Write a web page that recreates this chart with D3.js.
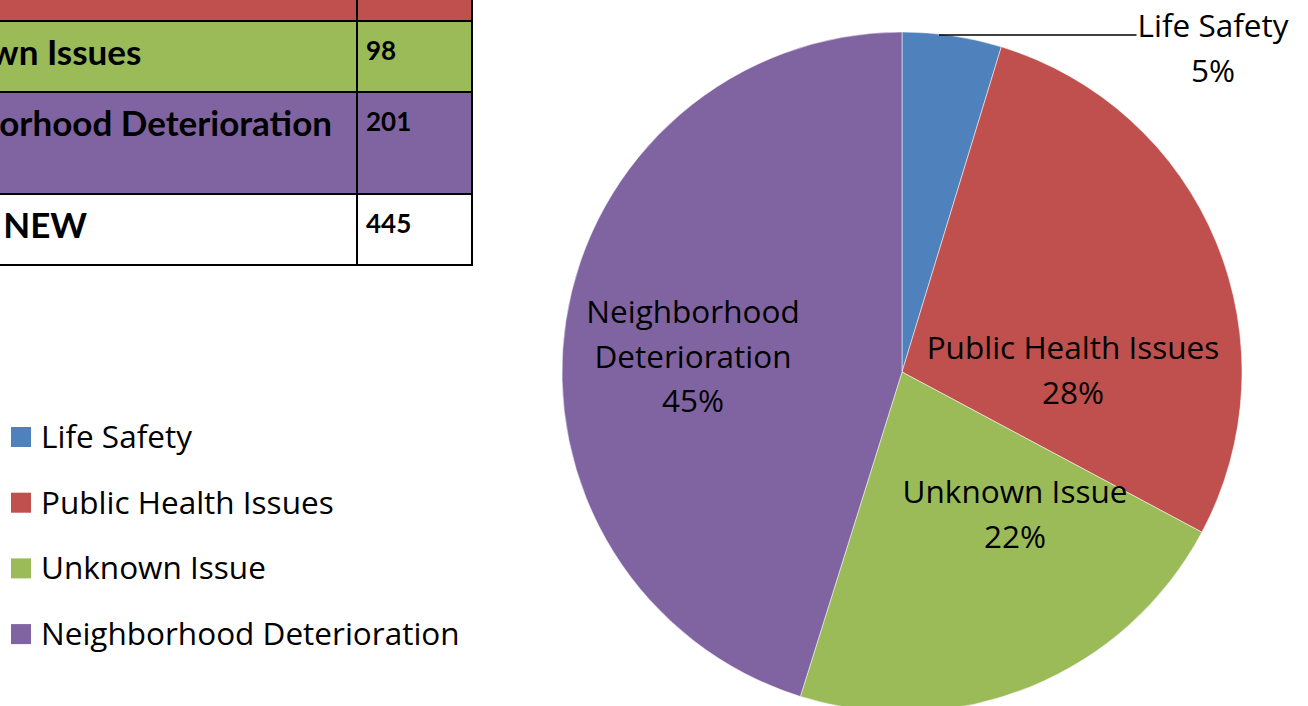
<!DOCTYPE html>
<html>
<head>
<meta charset="utf-8">
<script src="https://cdn.jsdelivr.net/npm/d3@7"></script>
<style>
  html, body { margin: 0; padding: 0; background: #fff; overflow: hidden; }
  svg { display: block; }
</style>
</head>
<body>
<svg id="chart" width="1308" height="706"></svg>
<script>
// Complaint categories and counts
const categories = ["Life Safety", "Public Health Issues", "Unknown Issue", "Neighborhood Deterioration"];
const counts = [21, 125, 98, 201];
const colors = ["#4F81BD", "#C0504D", "#9BBB59", "#8064A2"];

// Summary table rows (label, value)
const tableLabels = ["Public Health Issues", "Unknown Issues", "Neighborhood Deterioration", "TOTAL NEW"];
const tableValues = [125, 98, 201, 445];
const tableFills = ["#C0504D", "#9BBB59", "#8064A2", "#FFFFFF"];

const svg = d3.select("#chart");
const FONT = "'Open Sans', Lato, sans-serif";
const BOLD_FONT = "Lato, 'Open Sans', sans-serif";

// ---------- Table ----------
const tbl = { left: -300, divider: 357, right: 473, rowEdges: [-60, 21, 92, 194, 265] };
const tableG = svg.append("g");
const rowBands = tableLabels.map((d, i) => ({
  label: d, value: tableValues[i], fill: tableFills[i],
  y0: tbl.rowEdges[i], y1: tbl.rowEdges[i + 1]
}));

tableG.selectAll("rect.row").data(rowBands).join("rect")
  .attr("class", "row")
  .attr("x", tbl.left).attr("y", d => d.y0)
  .attr("width", tbl.right - tbl.left).attr("height", d => d.y1 - d.y0)
  .attr("fill", d => d.fill);

// grid lines
tableG.selectAll("line.h").data(tbl.rowEdges.slice(1)).join("line")
  .attr("x1", tbl.left).attr("x2", tbl.right)
  .attr("y1", d => d).attr("y2", d => d)
  .attr("stroke", "#000").attr("stroke-width", 2);
tableG.selectAll("line.v").data([tbl.divider, tbl.right - 1]).join("line")
  .attr("x1", d => d).attr("x2", d => d)
  .attr("y1", tbl.rowEdges[0]).attr("y2", tbl.rowEdges[tbl.rowEdges.length - 1])
  .attr("stroke", "#000").attr("stroke-width", 2);

// row labels share one left edge, set so the longest label ends just short of the divider
const labelText = tableG.selectAll("text.lbl").data(rowBands).join("text")
  .attr("class", "lbl")
  .attr("y", d => d.y0 + 44)
  .attr("font-family", BOLD_FONT).attr("font-weight", 700).attr("font-size", 35)
  .attr("fill", "#000")
  .text(d => d.label);
const longest = d3.max(labelText.nodes(), n => n.getComputedTextLength());
labelText.attr("x", tbl.divider - 25 - longest);

tableG.selectAll("text.val").data(rowBands).join("text")
  .attr("class", "val")
  .attr("x", tbl.divider + 9)
  .attr("y", d => d.y0 + 39)
  .attr("font-family", BOLD_FONT).attr("font-weight", 700).attr("font-size", 26)
  .attr("fill", "#000")
  .text(d => d.value);

// ---------- Legend ----------
const legend = svg.append("g").attr("transform", "translate(11,427)");
const legendStep = 65.7;
const items = legend.selectAll("g").data(categories).join("g")
  .attr("transform", (d, i) => `translate(0,${i * legendStep})`);
items.append("rect").attr("width", 20).attr("height", 20)
  .attr("fill", (d, i) => colors[i]);
items.append("text").attr("x", 30).attr("y", 21)
  .attr("font-family", FONT).attr("font-size", 31.5).attr("fill", "#000")
  .text(d => d);

// ---------- Pie ----------
const cx = 902, cy = 372, R = 340;
const total = d3.sum(counts);
const pie = d3.pie().sort(null).value(d => d)(counts);
const arc = d3.arc().innerRadius(0).outerRadius(R);
const pieG = svg.append("g").attr("transform", `translate(${cx},${cy})`);
pieG.selectAll("path").data(pie).join("path")
  .attr("d", arc)
  .attr("fill", (d, i) => colors[i])
  .attr("stroke", "rgba(255,255,255,0.5)").attr("stroke-width", 1);

// data labels: name on one or more lines, then rounded percentage
const labelLines = [["Life Safety"], ["Public Health Issues"], ["Unknown Issue"], ["Neighborhood", "Deterioration"]];
// label block anchor (centre x, first baseline) relative to the pie centre
const labelOffsets = [[311, -335], [171, -13], [113, 131], [-209, -49]];
const lineGap = 44.5;

pie.forEach((p, i) => {
  const pct = d3.format(".0%")(counts[i] / total);
  const lines = labelLines[i].concat([pct]);
  const [ox, oy] = labelOffsets[i];
  const t = pieG.append("text")
    .attr("text-anchor", "middle")
    .attr("font-family", FONT).attr("font-size", 31.5).attr("fill", "#000");
  lines.forEach((s, k) => {
    t.append("tspan").attr("x", ox).attr("y", oy + k * lineGap).text(s);
  });
});

// leader line for the small slice, from its label to the pie edge
{
  const ly = -337;
  const edgeX = Math.sqrt(R * R - ly * ly) - 8;
  const lbl = pieG.selectAll("text").nodes()[0];
  const bb = lbl.getBBox();
  pieG.append("line")
    .attr("x1", edgeX).attr("y1", ly)
    .attr("x2", bb.x - 1).attr("y2", ly)
    .attr("stroke", "#000").attr("stroke-width", 1.5);
}
</script>
</body>
</html>
